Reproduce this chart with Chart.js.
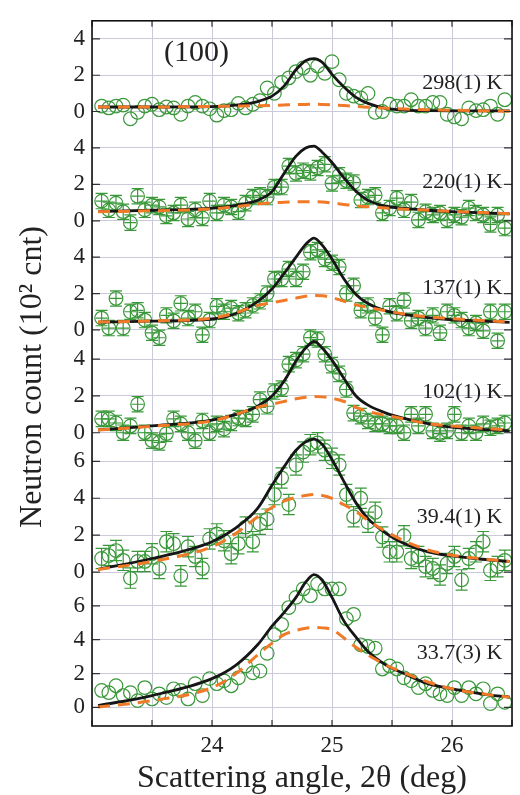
<!DOCTYPE html>
<html>
<head>
<meta charset="utf-8">
<script src="https://cdn.jsdelivr.net/npm/chart.js@4.4.1/dist/chart.umd.min.js"></script>
<style>
  html, body { margin: 0; padding: 0; background: #fff; }
  #wrap { width: 520px; height: 795px; }
</style>
</head>
<body>
<div id="wrap"><canvas id="neutronChart"></canvas></div>
<script>
// Scan angles (2theta, deg) shared by every temperature
const angle = [23.08, 23.14, 23.20, 23.26, 23.32, 23.38, 23.44, 23.50, 23.56, 23.62,
  23.68, 23.74, 23.80, 23.86, 23.92, 23.98, 24.04, 24.10, 24.16, 24.22,
  24.28, 24.34, 24.40, 24.46, 24.52, 24.58, 24.64, 24.70, 24.76, 24.82,
  24.88, 24.94, 25.00, 25.06, 25.12, 25.18, 25.24, 25.30, 25.36, 25.42,
  25.48, 25.54, 25.60, 25.66, 25.72, 25.78, 25.84, 25.90, 25.96, 26.02,
  26.08, 26.14, 26.20, 26.26, 26.32, 26.38, 26.44];

// Measured counts (10^2 cnt), one list per temperature
const counts298 = [0.3, 0.2, 0.3, 0.35, -0.4, -0.05, 0.3, 0.4, 0.1, 0.25,
  0.2, -0.15, 0.3, 0.5, 0.3, 0.15, -0.2, 0.05, 0.1, 0.45,
  0.2, 0.4, 0.6, 1.3, 1.0, 1.6, 1.85, 2.2, 2.4, 2.0,
  2.5, 2.1, 2.75, 1.75, 1.0, 0.85, 0.75, 1.0, -0.05, 0.0,
  0.4, 0.3, 0.3, 0.65, 0.3, 0.3, 0.5, 0.5, -0.15, -0.3,
  -0.4, 0.2, 0.05, 0.1, 0.3, -0.15, 0.65];
const counts220 = [1.08, 0.6, 0.97, 0.5, -0.1, 1.35, 0.6, 0.86, 0.76, 0.27,
  0.43, 0.86, 0.1, 0.6, 0.16, 1.08, 0.43, 0.86, 0.76, 0.5,
  0.97, 1.3, 1.4, 1.3, 1.85, 1.85, 3.0, 2.6, 2.75, 2.65,
  2.9, 3.1, 2.05, 2.5, 2.2, 2.1, 1.14, 1.3, 1.4, 0.43,
  0.7, 1.24, 0.6, 1.03, 0.05, 0.5, 0.32, 0.43, 0.05, 0.32,
  0.2, 0.7, 0.43, 0.32, -0.2, 0.32, -0.4];
const counts137 = [0.65, 0.1, 1.73, 0.1, 1.0, 1.08, 0.54, -0.16, -0.43, 0.8,
  0.5, 1.46, 0.65, 1.0, -0.27, 0.54, 1.3, 1.0, 1.2, 0.92,
  1.08, 1.35, 1.57, 2.0, 2.8, 2.8, 3.35, 2.8, 3.2, 4.27,
  4.4, 3.9, 3.7, 3.46, 2.0, 2.43, 1.08, 1.35, 0.65, -0.27,
  1.3, 0.92, 1.62, 0.5, 0.65, 0.1, 0.8, -0.16, 1.0, 0.8,
  0.54, 0.1, 0.38, -0.05, 1.0, -0.6, 1.0];
const counts102 = [0.75, 0.75, 0.53, 0.0, 0.37, 1.55, 0.0, -0.43, -0.53, -0.05,
  0.75, 0.48, 0.0, -0.43, 0.64, 0.0, 0.48, 0.2, 0.53, 0.8,
  0.75, 1.0, 1.8, 1.44, 2.24, 2.4, 3.73, 3.95, 4.27, 5.17,
  5.07, 4.27, 3.68, 3.2, 2.35, 1.07, 0.9, 0.64, 0.48, 0.48,
  0.37, 0.37, 0.0, 1.0, 0.37, 1.0, 0.1, -0.05, 0.1, 1.0,
  0.0, 0.37, 0.0, 0.48, 0.27, 0.37, 0.53];
const counts39 = [0.74, 0.9, 1.17, 0.64, -0.32, 0.58, 0.58, 1.0, 0.2, 1.65,
  1.54, -0.2, 1.38, 0.85, 0.2, 1.8, 2.07, 1.7, 1.0, 1.54,
  2.44, 1.65, 2.6, 2.87, 4.2, 5.1, 3.66, 5.8, 6.5, 6.9,
  7.0, 6.6, 6.16, 5.8, 4.2, 3.0, 4.0, 2.7, 3.24, 1.9,
  1.1, 1.1, 1.97, 0.74, 0.85, 0.3, 0.2, -0.15, 0.47, 0.85,
  -0.42, 0.74, 1.1, 1.65, 0.1, 0.3, 0.64];
const counts33 = [1.0, 0.87, 1.28, 0.7, 0.87, 0.4, 1.17, 0.5, 0.8, 0.58,
  1.1, 1.0, 0.5, 1.4, 0.7, 1.7, 1.4, 1.57, 1.28, 1.75,
  2.45, 2.04, 2.15, 3.2, 4.3, 4.9, 5.9, 6.5, 7.0, 6.6,
  7.3, 7.0, 7.0, 7.0, 5.24, 5.5, 3.7, 3.6, 3.5, 2.27,
  2.45, 2.27, 1.75, 1.57, 1.17, 1.4, 1.0, 0.8, 0.7, 1.17,
  0.7, 1.17, 0.8, 1.1, 0.23, 0.8, 0.3];

// Error bars (10^2 cnt / deg), one value per temperature
const errCounts = [0, 0.42, 0.42, 0.42, 0.55, 0];
const errAngle = [0, 0.05, 0.05, 0.05, 0, 0];

// Fit curves, read at these angles
const fitAngle = [23.05, 23.5, 24.0, 24.2, 24.38, 24.5, 24.6, 24.7, 24.78, 24.85,
  24.92, 25.0, 25.1, 25.2, 25.3, 25.45, 25.6, 25.8, 26.0, 26.25, 26.48];

const fitTotal298 = [0.25, 0.25, 0.27, 0.35, 0.55, 0.85, 1.4, 2.3, 2.8, 2.92,
  2.7, 2.05, 1.35, 0.78, 0.45, 0.17, 0.08, 0.05, 0.04, 0.04, 0.04];
const fitBroad298 = [0.25, 0.25, 0.28, 0.3, 0.32, 0.34, 0.36, 0.38, 0.39, 0.4,
  0.39, 0.37, 0.33, 0.28, 0.24, 0.18, 0.14, 0.1, 0.07, 0.04, 0.02];

const fitTotal220 = [0.5, 0.58, 0.7, 0.85, 1.13, 1.6, 2.6, 3.55, 4.0, 4.1,
  3.75, 3.2, 2.35, 1.62, 1.12, 0.8, 0.68, 0.58, 0.5, 0.44, 0.38];
const fitBroad220 = [0.5, 0.55, 0.65, 0.78, 0.92, 0.98, 1.02, 1.04, 1.05, 1.05,
  1.03, 0.98, 0.9, 0.82, 0.77, 0.7, 0.64, 0.58, 0.52, 0.45, 0.38];

const fitTotal137 = [0.43, 0.48, 0.6, 0.9, 1.56, 2.25, 3.1, 4.0, 4.7, 5.05,
  4.65, 3.9, 2.8, 1.95, 1.45, 1.05, 0.85, 0.68, 0.56, 0.48, 0.42];
const fitBroad137 = [0.43, 0.5, 0.65, 0.95, 1.35, 1.5, 1.62, 1.75, 1.85, 1.9,
  1.88, 1.78, 1.58, 1.38, 1.24, 1.05, 0.88, 0.72, 0.62, 0.52, 0.43];

const fitTotal102 = [0.15, 0.37, 0.69, 1.0, 1.44, 2.0, 2.8, 3.9, 4.6, 4.96,
  4.6, 3.95, 2.95, 2.0, 1.5, 1.07, 0.78, 0.5, 0.3, 0.18, 0.1];
const fitBroad102 = [0.15, 0.35, 0.65, 1.0, 1.38, 1.55, 1.7, 1.85, 1.93, 1.97,
  1.95, 1.88, 1.7, 1.38, 1.15, 0.95, 0.75, 0.5, 0.37, 0.25, 0.15];

const fitTotal39 = [0.15, 0.74, 1.65, 2.4, 3.45, 4.7, 5.7, 6.6, 7.05, 7.2,
  6.9, 6.1, 4.9, 3.75, 2.9, 2.1, 1.55, 1.1, 0.88, 0.7, 0.58];
const fitBroad39 = [0.15, 0.58, 1.38, 2.1, 3.0, 3.5, 3.85, 4.05, 4.15, 4.2,
  4.15, 4.0, 3.65, 3.28, 2.8, 2.2, 1.7, 1.2, 0.92, 0.72, 0.58];

const fitTotal33 = [0.1, 0.7, 1.7, 2.5, 3.7, 4.8, 5.6, 6.5, 7.4, 7.85,
  7.5, 6.5, 5.1, 4.15, 3.3, 2.5, 2.0, 1.4, 1.1, 0.8, 0.6];
const fitBroad33 = [0.02, 0.4, 1.17, 2.0, 3.1, 3.8, 4.3, 4.55, 4.68, 4.72,
  4.7, 4.6, 4.1, 3.55, 3.1, 2.5, 2.05, 1.5, 1.1, 0.8, 0.6];

// Temperature labels and tick labels
const tempLabels = ['298(1) K', '220(1) K', '137(1) K', '102(1) K', '39.4(1) K', '33.7(3) K'];
const yTickValues = [[0, 2, 4], [0, 2, 4], [0, 2, 4], [0, 2, 4], [0, 2, 4, 6], [0, 2, 4, 6]];
const xTickValues = [23, 23.5, 24, 24.5, 25, 25.5, 26, 26.5];
const xTickLabels = ['24', '25', '26'];

// Panel ranges (top to bottom) and their share of the height
const panelMin = [-1, -1, -0.8, -0.8, -1, -1.1];
const panelMax = [5, 5, 5, 4.8, 6.75, 6.9];
const panelWeight = [111, 111.5, 107.5, 105, 146, 138];

const allCounts = [counts298, counts220, counts137, counts102, counts39, counts33];
const allTotal = [fitTotal298, fitTotal220, fitTotal137, fitTotal102, fitTotal39, fitTotal33];
const allBroad = [fitBroad298, fitBroad220, fitBroad137, fitBroad102, fitBroad39, fitBroad33];

const SERIF = '"Liberation Serif", "DejaVu Serif", serif';
const GREEN = 'rgb(58, 152, 58)';
const ORANGE = 'rgb(240, 122, 40)';
const TEXT = '#222';
const GRID = 'rgb(202, 202, 216)';

function panelId(i) {
    return 'y' + i;
}

// Build datasets
const datasets = [];
allCounts.forEach(function(vals, i) {
    datasets.push({
        label: 'broad ' + tempLabels[i],
        data: fitAngle.map((a, j) => ({ x: a, y: allBroad[i][j] })),
        yAxisID: panelId(i),
        borderColor: ORANGE,
        borderWidth: 3,
        borderDash: [12, 8],
        pointRadius: 0,
        cubicInterpolationMode: 'monotone',
        clip: false,
        order: 0
    });
    datasets.push({
        label: 'fit ' + tempLabels[i],
        data: fitAngle.map((a, j) => ({ x: a, y: allTotal[i][j] })),
        yAxisID: panelId(i),
        borderColor: '#161616',
        borderWidth: 2.8,
        pointRadius: 0,
        cubicInterpolationMode: 'monotone',
        clip: false,
        order: 1
    });
    datasets.push({
        label: 'data ' + tempLabels[i],
        data: angle.map((a, j) => ({ x: a, y: vals[j] })),
        yAxisID: panelId(i),
        showLine: false,
        pointStyle: 'circle',
        pointRadius: 6.8,
        pointBorderWidth: 1.2,
        pointBorderColor: GREEN,
        pointBackgroundColor: 'rgba(0,0,0,0)',
        clip: false,
        order: 2,
        errY: errCounts[i],
        errX: errAngle[i]
    });
});

// Stacked y axes, one per temperature
const scales = {
    x: {
        type: 'linear',
        min: 23,
        max: 26.5,
        bounds: 'data',
        afterBuildTicks: function(axis) {
            axis.ticks = xTickValues.map(v => ({ value: v }));
        },
        afterFit: function(axis) {
            axis.height = 69;
        },
        grid: { color: GRID, lineWidth: 1, drawTicks: false },
        border: { display: false },
        ticks: {
            padding: 6,
            color: TEXT,
            font: { family: SERIF, size: 23 },
            maxRotation: 0,
            autoSkip: false,
            callback: function(value) {
                const s = String(value);
                return xTickLabels.includes(s) ? s : '';
            }
        },
        title: {
            display: true,
            text: 'Scattering angle, 2θ (deg)',
            color: TEXT,
            font: { family: SERIF, size: 32, lineHeight: 1 },
            padding: { top: 0, bottom: 0 }
        }
    }
};
allCounts.forEach(function(vals, i) {
    scales[panelId(i)] = {
        type: 'linear',
        position: 'left',
        stack: 'panels',
        stackWeight: panelWeight[i],
        weight: 10 - i,
        min: panelMin[i],
        max: panelMax[i],
        bounds: 'data',
        afterBuildTicks: function(axis) {
            axis.ticks = yTickValues[i].map(v => ({ value: v }));
        },
        afterFit: function(axis) {
            axis.width = 92;
        },
        grid: { color: GRID, lineWidth: 1, drawTicks: false },
        border: { display: false },
        ticks: {
            padding: 7,
            autoSkip: false,
            color: TEXT,
            font: { family: SERIF, size: 23 }
        }
    };
});

// Error bars under the circles
const errorBars = {
    id: 'errorBars',
    beforeDatasetsDraw(chart) {
        const ctx = chart.ctx;
        const xScale = chart.scales.x;
        ctx.save();
        ctx.strokeStyle = GREEN;
        ctx.lineWidth = 1.2;
        chart.data.datasets.forEach(function(ds, di) {
            if (!ds.errY) return;
            const yScale = chart.scales[ds.yAxisID];
            const meta = chart.getDatasetMeta(di);
            ds.data.forEach(function(pt, j) {
                const px = meta.data[j].x;
                const py = meta.data[j].y;
                const top = yScale.getPixelForValue(pt.y + ds.errY);
                const bot = yScale.getPixelForValue(pt.y - ds.errY);
                ctx.beginPath();
                ctx.moveTo(px, top);
                ctx.lineTo(px, bot);
                ctx.moveTo(px - 6, top);
                ctx.lineTo(px + 6, top);
                ctx.moveTo(px - 6, bot);
                ctx.lineTo(px + 6, bot);
                if (ds.errX) {
                    ctx.moveTo(xScale.getPixelForValue(pt.x - ds.errX), py);
                    ctx.lineTo(xScale.getPixelForValue(pt.x + ds.errX), py);
                }
                ctx.stroke();
            });
        });
        ctx.restore();
    }
};

// Frame, inward tick marks, labels
const frameAndText = {
    id: 'frameAndText',
    afterDraw(chart) {
        const ctx = chart.ctx;
        const area = chart.chartArea;
        const xScale = chart.scales.x;
        ctx.save();

        // tick marks pointing into the plot
        ctx.strokeStyle = '#333';
        ctx.lineWidth = 1.2;
        ctx.beginPath();
        xTickValues.forEach(function(v) {
            const px = xScale.getPixelForValue(v);
            ctx.moveTo(px, area.bottom);
            ctx.lineTo(px, area.bottom - 6);
            ctx.moveTo(px, area.top);
            ctx.lineTo(px, area.top + 6);
        });
        yTickValues.forEach(function(vals, i) {
            const yScale = chart.scales[panelId(i)];
            vals.forEach(function(v) {
                const py = yScale.getPixelForValue(v);
                ctx.moveTo(area.left, py);
                ctx.lineTo(area.left + 8, py);
                ctx.moveTo(area.right, py);
                ctx.lineTo(area.right - 8, py);
            });
        });
        ctx.stroke();

        // frame
        ctx.strokeStyle = '#111';
        ctx.lineWidth = 1.6;
        ctx.strokeRect(area.left, area.top, area.right - area.left, area.bottom - area.top);

        // temperature labels
        const labelY = [1.57, 2.1, 2.27, 2.19, 3.0, 3.2];
        ctx.fillStyle = TEXT;
        ctx.font = '22px ' + SERIF;
        ctx.textAlign = 'right';
        ctx.textBaseline = 'middle';
        tempLabels.forEach(function(t, i) {
            const yScale = chart.scales[panelId(i)];
            ctx.fillText(t, xScale.getPixelForValue(26.42), yScale.getPixelForValue(labelY[i]));
        });

        // reflection label
        ctx.font = '30px ' + SERIF;
        ctx.textAlign = 'center';
        ctx.fillText('(100)', xScale.getPixelForValue(23.87), chart.scales.y0.getPixelForValue(3.2));

        // y title across all panels
        ctx.font = '32px ' + SERIF;
        ctx.translate(33, 377);
        ctx.rotate(-Math.PI / 2);
        ctx.fillText('Neutron count (10² cnt)', 0, 0);
        ctx.restore();
    }
};

const ctx = document.getElementById('neutronChart');
new Chart(ctx, {
    type: 'line',
    data: { datasets: datasets },
    options: {
        responsive: true,
        maintainAspectRatio: false,
        animation: false,
        devicePixelRatio: 1,
        layout: { padding: { top: 7, right: 3, left: 0, bottom: 0 } },
        plugins: {
            legend: { display: false },
            tooltip: { enabled: false }
        },
        scales: scales
    },
    plugins: [errorBars, frameAndText]
});
</script>
</body>
</html>
